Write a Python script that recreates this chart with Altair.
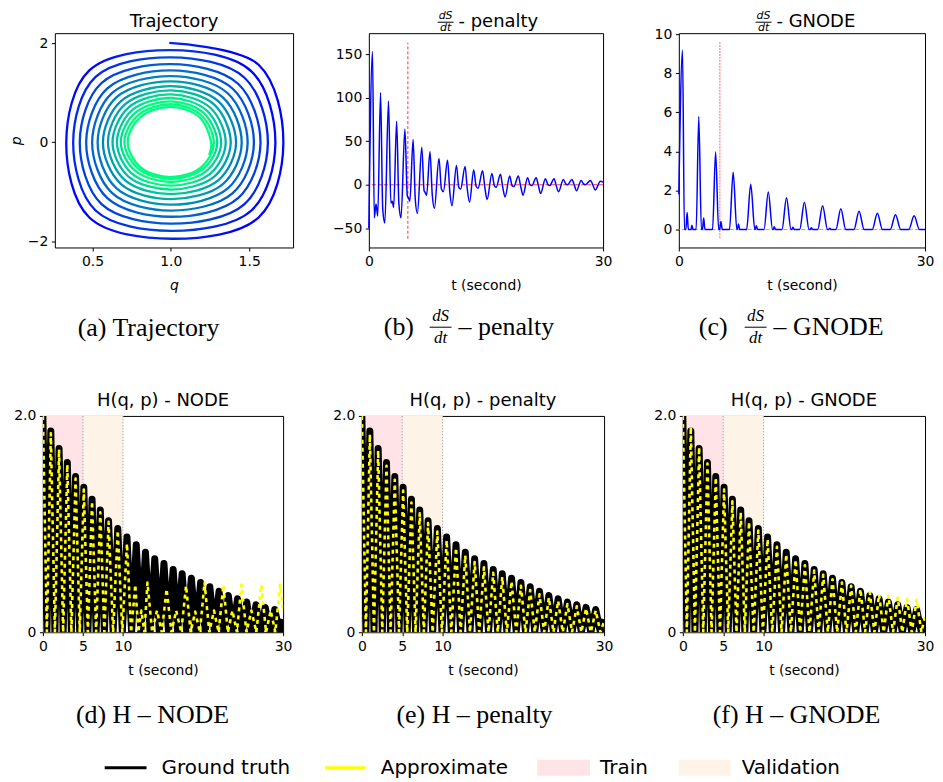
import altair as alt
import pandas as pd

FONT = "DejaVu Sans"
SERIF = "Liberation Serif"

# ---------------- (a) trajectory: one point every eighth of a turn (q, p)
traj_q = [0.99, 1.560, 1.718, 1.560, 1.01, 0.480, 0.333, 0.480,
          1.00, 1.514, 1.667, 1.514, 1.00, 0.520, 0.377, 0.520,
          1.00, 1.470, 1.619, 1.470, 1.00, 0.558, 0.419, 0.558,
          1.00, 1.429, 1.572, 1.429, 1.00, 0.595, 0.460, 0.595,
          1.00, 1.395, 1.530, 1.395, 1.00, 0.626, 0.498, 0.626,
          1.00, 1.363, 1.490, 1.363, 1.00, 0.654, 0.533, 0.654,
          1.00, 1.332, 1.452, 1.332, 1.00, 0.682, 0.567, 0.682,
          1.00, 1.304, 1.416, 1.304, 1.00, 0.707, 0.599, 0.707,
          1.00, 1.277, 1.382, 1.277, 1.00, 0.730, 0.628, 0.730,
          1.00, 1.252, 1.350, 1.252, 1.00, 0.752, 0.656, 0.752,
          1.00, 1.230, 1.321, 1.230, 1.00, 0.772, 0.681, 0.772,
          1.00, 1.210, 1.296, 1.210, 1.00, 0.790, 0.704, 0.790,
          1.00, 1.195, 1.274, 1.195, 1.00, 0.805, 0.725, 0.805,
          1.00, 1.183, 1.258, 1.245]
traj_p = [2.004, 1.563, -0.02, -1.516, -1.944, -1.516, 0.0, 1.449,
          1.858, 1.431, -0.02, -1.375, -1.786, -1.375, 0.0, 1.319,
          1.713, 1.302, -0.02, -1.246, -1.640, -1.246, 0.0, 1.196,
          1.574, 1.181, -0.02, -1.126, -1.501, -1.126, 0.0, 1.086,
          1.448, 1.079, -0.02, -1.025, -1.376, -1.025, 0.0, 0.995,
          1.336, 0.989, -0.02, -0.930, -1.257, -0.930, 0.0, 0.910,
          1.230, 0.904, -0.02, -0.841, -1.144, -0.841, 0.0, 0.831,
          1.131, 0.826, -0.02, -0.763, -1.045, -0.763, 0.0, 0.763,
          1.045, 0.758, -0.02, -0.690, -0.952, -0.690, 0.0, 0.700,
          0.966, 0.696, -0.02, -0.629, -0.873, -0.629, 0.0, 0.643,
          0.893, 0.638, -0.02, -0.572, -0.800, -0.572, 0.0, 0.591,
          0.827, 0.587, -0.02, -0.526, -0.741, -0.526, 0.0, 0.545,
          0.767, 0.545, -0.02, -0.498, -0.701, -0.498, 0.0, 0.507,
          0.714, 0.507, -0.02, -0.26]

# ---------------- (b) dS/dt penalty
pen_t = [0.00, 0.47, 0.70, 0.92, 1.14, 1.50, 1.78, 2.05, 2.52, 2.82, 3.00, 3.18,
         3.56, 3.85, 4.12, 4.62, 4.93, 5.08, 5.25, 5.67, 5.95, 6.22, 6.78, 7.08,
         7.22, 7.40, 7.83, 8.12, 8.40, 8.98, 9.30, 9.55, 10.08, 10.38, 10.65, 11.22,
         11.52, 11.75, 12.33, 12.62, 12.90, 13.43, 13.75, 13.98, 14.57, 14.87, 15.15,
         15.76, 16.08, 16.30, 16.86, 17.15, 17.45, 18.04, 18.35, 18.58, 19.15, 19.45,
         19.75, 20.33, 20.65, 20.88, 21.43, 21.72, 22.00, 22.62, 22.95, 23.17, 23.72,
         24.00, 24.30, 24.91, 25.22, 25.45, 26.01, 26.30, 26.60, 27.19, 27.50, 27.75,
         28.38, 28.68, 29.00, 29.65, 30.00]
pen_v = [-50, 153, -38, -22, -36, 106, -28, -44, 96, -21, -19, -26,
         73, -22, -38, 64, -13, -15, -19, 52, -17, -33, 43, -7,
         -9, -12, 38, -11, -27, 30, -5, -8, 28, -9, -24, 22,
         -3, -5, 21, -6, -20, 17, -2, -4, 16, -4, -17,
         13, -1, -3, 12, -3, -14, 10, -1, -2, 10, -2,
         -12, 8, 0, -1, 8, -1, -10, 7, 0, -1, 7,
         -1, -8, 6, 1, 0, 6, 0, -7, 5, 1, 0,
         5, 0, -6, 4, 3]
pen_split = [5.0]
pen_split_lo = [-62]
pen_split_hi = [163]

# ---------------- (c) dS/dt GNODE
gn_t = [0.00, 0.45, 0.68, 0.86, 1.01, 1.16, 1.48, 1.60, 1.72, 2.11, 2.43, 2.75,
        2.88, 3.03, 3.18, 4.11, 4.48, 4.85, 4.97, 5.13, 5.29, 6.17, 6.62, 7.07,
        7.12, 7.27, 7.42, 8.26, 8.76, 9.26, 9.30, 9.45, 9.60, 10.38, 10.90, 11.42,
        11.48, 11.63, 11.78, 12.57, 13.12, 13.67, 13.75, 13.90, 14.05, 14.73, 15.30,
        15.87, 16.00, 16.15, 16.30, 16.92, 17.52, 18.12, 18.25, 18.40, 18.55, 19.14,
        19.74, 20.34, 21.34, 21.96, 22.58, 23.57, 24.19, 24.81, 25.76, 26.40, 27.04,
        28.02, 28.67, 29.32, 30.00]
gn_v = [1.80, 9.18, 0.00, 0.00, 0.87, 0.00, 0.00, 0.22, 0.00, 0.00, 5.79, 0.00,
        0.00, 0.59, 0.00, 0.00, 3.97, 0.00, 0.00, 0.41, 0.00, 0.00, 2.93, 0.00,
        0.00, 0.28, 0.00, 0.00, 2.32, 0.00, 0.00, 0.19, 0.00, 0.00, 1.92, 0.00,
        0.00, 0.14, 0.00, 0.00, 1.63, 0.00, 0.00, 0.12, 0.00, 0.00, 1.39,
        0.00, 0.00, 0.09, 0.00, 0.00, 1.22, 0.00, 0.00, 0.07, 0.00, 0.00,
        1.06, 0.00, 0.00, 0.94, 0.00, 0.00, 0.83, 0.00, 0.00, 0.76, 0.00,
        0.00, 0.70, 0.00, 0.00]
gn_split = [5.0]
gn_split_lo = [-0.45]
gn_split_hi = [9.62]

# ---------------- (d)-(f) H(q, p)
gt_peak_t = [0.0, 0.99, 2.02, 3.05, 4.08, 5.11, 6.14, 7.17, 8.2, 9.35, 10.5, 11.66,
             12.81, 13.97, 15.12, 16.27, 17.39, 18.54, 19.7, 20.85, 22.0, 23.16,
             24.31, 25.46, 26.62, 27.77, 28.96]
gt_trough_t = [0.5, 1.5, 2.53, 3.56, 4.6, 5.62, 6.65, 7.68, 8.77, 9.92, 11.08, 12.23,
               13.39, 14.54, 15.69, 16.83, 17.96, 19.12, 20.27, 21.42, 22.58, 23.73,
               24.88, 26.04, 27.19, 28.36, 29.55]
gt_peak_h = [2.0, 1.86, 1.70, 1.57, 1.44, 1.34, 1.23, 1.13, 1.03, 0.96, 0.88, 0.81,
             0.74, 0.68, 0.635, 0.58, 0.54, 0.50, 0.46, 0.42, 0.38, 0.34, 0.31,
             0.28, 0.255, 0.23, 0.21]
penalty_peak_h = [2.0, 1.83, 1.68, 1.54, 1.41, 1.31, 1.20, 1.10, 1.01, 0.93, 0.85,
                  0.78, 0.71, 0.65, 0.60, 0.55, 0.51, 0.47, 0.43, 0.39, 0.35, 0.32,
                  0.29, 0.26, 0.24, 0.22, 0.20]
gnode_peak_h = [2.0, 1.90, 1.71, 1.56, 1.43, 1.32, 1.21, 1.11, 1.02, 0.94, 0.86,
                0.79, 0.72, 0.67, 0.62, 0.57, 0.53, 0.49, 0.46, 0.43, 0.40, 0.37,
                0.35, 0.34, 0.32, 0.31, 0.30]
node_t = [0.0, 0.5, 0.99, 1.5, 2.02, 2.53, 3.05, 3.56, 4.08, 4.6, 5.11, 5.62, 6.14,
          6.65, 7.17, 7.68, 8.2, 8.77, 9.35, 9.92, 10.5, 11.02, 11.54, 11.92, 12.3,
          12.68, 13.06, 13.65, 14.25, 14.85, 15.45, 16.05, 16.65, 17.27, 17.88,
          18.45, 19.03, 19.6, 20.19, 20.78, 21.37, 21.95, 22.54, 23.1, 23.67, 24.23,
          24.8, 25.42, 26.04, 26.66, 27.28, 27.87, 28.45, 29.03, 29.62, 30.0]
node_h = [2.0, 0, 1.84, 0, 1.69, 0, 1.55, 0, 1.42, 0, 1.32, 0, 1.21,
          0, 1.11, 0, 1.02, 0, 0.94, 0, 0.82, 0, 0.44, 0, 0.2,
          0, 0.46, 0, 0.2, 0, 0.40, 0, 0.2, 0, 0.43,
          0, 0.19, 0, 0.46, 0, 0.2, 0, 0.44, 0, 0.2, 0,
          0.44, 0, 0.2, 0, 0.44, 0, 0.2, 0, 0.44, 0.2]
band_names = ["Train", "Validation"]
band_start = [0, 5]
band_end = [5, 10]
band_colors = ["#ffe3e7", "#fdf3e6"]
split_t = [5, 10]


def h_series(peak_t, peak_h, trough_t, end_h):
    t, h = [], []
    for pt, ph, tt in zip(peak_t, peak_h, trough_t):
        t += [pt, tt]
        h += [ph, 0.0]
    t.append(30.0)
    h.append(end_h)
    return pd.DataFrame({"t": t, "h": h})


gt_df = h_series(gt_peak_t, gt_peak_h, gt_trough_t, 0.12)
pen_h_df = h_series(gt_peak_t, penalty_peak_h, gt_trough_t, 0.1)
gn_h_df = h_series(gt_peak_t, gnode_peak_h, gt_trough_t, 0.15)
node_df = pd.DataFrame({"t": node_t, "h": node_h})

CAP_SIZE = 26


def piece(txt, x, y, size, font=FONT, style="normal", align="left"):
    return alt.Chart(pd.DataFrame({"c": [txt]})).mark_text(
        font=font, fontSize=size, fontStyle=style, align=align, baseline="middle", color="black"
    ).encode(text="c:N", x=alt.value(x), y=alt.value(y))


def bar(xc, half, y):
    return alt.Chart(pd.DataFrame({"a": [0]})).mark_rule(color="black", strokeWidth=1).encode(
        x=alt.value(xc - half), x2=alt.value(xc + half), y=alt.value(y))


def caption(txt, x, y):
    return piece(txt, x, y, CAP_SIZE, font=SERIF, align="center")


def frac_title(xc, rest, x_rest):
    # small stacked dS over dt, followed by the rest of the title
    return [piece("dS", xc, -17, 11, style="italic", align="center"), bar(xc, 8, -11),
            piece("dt", xc, -5, 11, style="italic", align="center"),
            piece(rest, x_rest, -11, 18)]


def frac_caption(label, x_label, xc, rest, x_rest, y):
    return [piece(label, x_label, y, CAP_SIZE, font=SERIF),
            piece("dS", xc, y - 11, 17, font=SERIF, style="italic", align="center"),
            bar(xc, 11, y),
            piece("dt", xc, y + 11, 17, font=SERIF, style="italic", align="center"),
            piece(rest, x_rest, y, CAP_SIZE, font=SERIF)]


def ttl(text, offset):
    return alt.Title(text, font=FONT, fontSize=18, fontWeight="normal", offset=offset,
                     color="black", frame="group")


# ---- panel a : one continuous line, colour running blue (outside) -> green (inside)
traj_df = pd.DataFrame({"q": traj_q, "p": traj_p, "order": list(range(len(traj_q)))})
winter = alt.RadialGradient(
    gradient="radial", x1=0.474, y1=0.508, r1=0, x2=0.474, y2=0.508, r2=0.5,
    stops=[alt.GradientStop(offset=0.0, color="#00ff80"),
           alt.GradientStop(offset=0.39, color="#00ff80"),
           alt.GradientStop(offset=0.48, color="#00c49d"),
           alt.GradientStop(offset=0.62, color="#0080bf"),
           alt.GradientStop(offset=0.84, color="#003be2"),
           alt.GradientStop(offset=1.0, color="#0000ff")])
traj_line = alt.Chart(traj_df).mark_line(strokeWidth=2.3, interpolate="catmull-rom", color=winter).encode(
    x=alt.X("q:Q", scale=alt.Scale(domain=[0.26, 1.78], nice=False, zero=False),
            axis=alt.Axis(values=[0.5, 1.0, 1.5], format=".1f", title="q", titleFontStyle="italic")),
    y=alt.Y("p:Q", scale=alt.Scale(domain=[-2.12, 2.2], nice=False),
            axis=alt.Axis(values=[-2, 0, 2], format="d", title="p", titleFontStyle="italic")),
    order="order:Q",
)
panel_a = alt.layer(traj_line, caption("(a)  Trajectory", 94, 296)).properties(
    width=239, height=215, title=ttl("Trajectory", 2))

# ---- panel b
tx_b = alt.X("t:Q", scale=alt.Scale(domain=[0, 30], nice=False),
             axis=alt.Axis(values=[0, 30], title="t (second)"))
ys_b = alt.Scale(domain=[-72, 174], nice=False)
b_zero = alt.Chart(pd.DataFrame({"z": [0]})).mark_rule(color="red", strokeDash=[4, 2], strokeWidth=0.8).encode(
    y=alt.Y("z:Q", scale=ys_b))
b_split = alt.Chart(pd.DataFrame({"t": pen_split, "lo": pen_split_lo, "hi": pen_split_hi})).mark_rule(
    color="red", strokeDash=[3, 2], strokeWidth=0.8).encode(x=tx_b, y=alt.Y("lo:Q", scale=ys_b), y2="hi:Q")
b_line = alt.Chart(pd.DataFrame({"t": pen_t, "v": pen_v})).mark_line(
    color="#0000ff", strokeWidth=1.5, interpolate="monotone").encode(
    x=tx_b, y=alt.Y("v:Q", scale=ys_b, axis=alt.Axis(values=[-50, 0, 50, 100, 150], title=None)))
panel_b = alt.layer(b_zero, b_split, b_line,
                    *frac_title(77, "- penalty", 90),
                    *frac_caption("(b)", 15, 72, "– penalty", 90, 295)).properties(width=235, height=215)

# ---- panel c
ys_c = alt.Scale(domain=[-0.92, 10.05], nice=False)
c_zero = alt.Chart(pd.DataFrame({"z": [0]})).mark_rule(color="#ff6666", strokeDash=[4, 2], strokeWidth=0.8).encode(
    y=alt.Y("z:Q", scale=ys_c))
c_split = alt.Chart(pd.DataFrame({"t": gn_split, "lo": gn_split_lo, "hi": gn_split_hi})).mark_rule(
    color="#ff8080", strokeDash=[2, 1], strokeWidth=1.2).encode(x=tx_b, y=alt.Y("lo:Q", scale=ys_c), y2="hi:Q")
c_line = alt.Chart(pd.DataFrame({"t": gn_t, "v": gn_v})).mark_line(
    color="#0000ff", strokeWidth=1.5, interpolate="monotone").encode(
    x=tx_b, y=alt.Y("v:Q", scale=ys_c, axis=alt.Axis(values=[0, 2, 4, 6, 8, 10], title=None)))
panel_c = alt.layer(c_zero, c_split, c_line,
                    *frac_title(85, "- GNODE", 98),
                    *frac_caption("(c)", 20, 77, "– GNODE", 95, 295)).properties(width=247, height=215)

# ---- H panels
tx_h = alt.X("t:Q", scale=alt.Scale(domain=[0, 30], nice=False),
             axis=alt.Axis(values=[0, 5, 10, 30], title="t (second)"))
ys_h = alt.Scale(domain=[0, 2.0], nice=False)
bands_df = pd.DataFrame({"band": band_names, "t": band_start, "t_end": band_end})


def h_panel(approx_df, title, cap, w, cap_x):
    bands = alt.Chart(bands_df).mark_rect().encode(
        x=tx_h, x2="t_end:Q",
        color=alt.Color("band:N", scale=alt.Scale(domain=band_names, range=band_colors), legend=None))
    vlines = alt.Chart(pd.DataFrame({"t": split_t})).mark_rule(
        color="#aaaaaa", strokeDash=[1.5, 1.5], strokeWidth=1).encode(x=tx_h)
    gt = alt.Chart(gt_df).mark_line(color="black", strokeWidth=7, strokeJoin="round",
                                    interpolate="linear", clip=True).encode(
        x=tx_h, y=alt.Y("h:Q", scale=ys_h, axis=alt.Axis(values=[0, 2], title=None,
                                                        labelExpr="datum.value == 0 ? '0' : '2.0'")))
    ap = alt.Chart(approx_df).mark_line(color="#ffff00", strokeWidth=2.6, strokeDash=[4, 4],
                                        strokeJoin="round", interpolate="linear", clip=True).encode(
        x=tx_h, y=alt.Y("h:Q", scale=ys_h))
    return alt.layer(bands, vlines, gt, ap, caption(cap, cap_x, 300)).properties(
        width=w, height=217, title=ttl(title, -1))


panel_d = h_panel(node_df, "H(q, p) - NODE", "(d)  H – NODE", 241, 110)
panel_e = h_panel(pen_h_df, "H(q, p) - penalty", "(e)  H – penalty", 243, 113)
panel_f = h_panel(gn_h_df, "H(q, p) - GNODE", "(f)  H – GNODE", 243, 114)

# ---- spacer that pushes the first row 12 px right of the second
spacer = alt.Chart(pd.DataFrame({"a": [0]})).mark_point(opacity=0).encode(
    x=alt.value(0), y=alt.value(0)).properties(width=12, height=10, view=alt.ViewBackground(stroke="transparent"))

# ---- legend row
leg_base = alt.Chart(pd.DataFrame({"a": [0]}))
LY = 10
legend = alt.layer(
    leg_base.mark_rule(color="black", strokeWidth=3).encode(x=alt.value(62), x2=alt.value(104), y=alt.value(LY)),
    leg_base.mark_text(align="left", baseline="middle", font=FONT, fontSize=20).encode(
        x=alt.value(119), y=alt.value(LY), text=alt.value("Ground truth")),
    leg_base.mark_rule(color="#ffff00", strokeWidth=3).encode(x=alt.value(283), x2=alt.value(324), y=alt.value(LY)),
    leg_base.mark_text(align="left", baseline="middle", font=FONT, fontSize=20).encode(
        x=alt.value(339), y=alt.value(LY), text=alt.value("Approximate")),
    leg_base.mark_rect(color=band_colors[0]).encode(x=alt.value(496), x2=alt.value(549),
                                                     y=alt.value(LY - 8), y2=alt.value(LY + 8)),
    leg_base.mark_text(align="left", baseline="middle", font=FONT, fontSize=20).encode(
        x=alt.value(559), y=alt.value(LY), text=alt.value("Train")),
    leg_base.mark_rect(color=band_colors[1]).encode(x=alt.value(638), x2=alt.value(690),
                                                     y=alt.value(LY - 8), y2=alt.value(LY + 8)),
    leg_base.mark_text(align="left", baseline="middle", font=FONT, fontSize=20).encode(
        x=alt.value(701), y=alt.value(LY), text=alt.value("Validation")),
).properties(width=880, height=20, view=alt.ViewBackground(stroke="transparent"))

row1_inner = alt.hconcat(panel_a, panel_b, panel_c, spacing=76, bounds="flush")
row1 = alt.hconcat(spacer, row1_inner, spacing=0, bounds="flush")
row2 = alt.hconcat(panel_d, panel_e, panel_f, spacing=79, bounds="flush")
grid = alt.vconcat(row1, row2, spacing=44)
chart = alt.vconcat(grid, legend, spacing=28).properties(
    padding={"left": 0, "top": 0, "right": 0, "bottom": 0}
).configure_axis(
    labelFont=FONT, titleFont=FONT, labelFontSize=14, titleFontSize=14, titleFontWeight="normal",
    labelColor="black", titleColor="black", tickColor="black", domain=False, grid=False,
    tickSize=3.5, labelPadding=3.5, labelFlush=False, labelOverlap=False, titlePadding=4
).configure_axisX(titlePadding=10).configure_view(stroke="black", strokeWidth=1).configure_title(
    font=FONT, color="black")

chart.save("out.html", embed_options={"renderer": "svg", "actions": False})
